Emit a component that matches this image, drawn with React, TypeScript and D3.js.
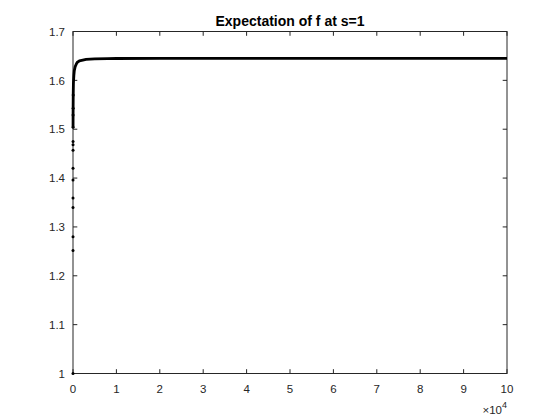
import React from 'react';
import * as d3 from 'd3';

const width = 560;
const height = 420;

// sample index n and the running expectation
const sampleN = [1, 2, 3, 4, 5, 6, 7, 8, 9, 10, 15, 20, 30, 50, 100, 200, 300, 500, 800, 1000, 1500, 2000, 3000, 5000, 8000, 10000, 20000, 40000, 60000, 80000, 100000];
const expectation = [1.0, 1.252, 1.28, 1.34, 1.359, 1.396, 1.42, 1.457, 1.468, 1.475, 1.504, 1.529, 1.543, 1.57, 1.595, 1.61, 1.62, 1.628, 1.634, 1.637, 1.64, 1.641, 1.643, 1.644, 1.6445, 1.6447, 1.6448, 1.6449, 1.6449, 1.6449, 1.6449];

const xTicks = [0, 1, 2, 3, 4, 5, 6, 7, 8, 9, 10];
const yTicks = [1, 1.1, 1.2, 1.3, 1.4, 1.5, 1.6, 1.7];

const left = 73;
const right = 507;
const top = 31.5;
const bottom = 373.5;
const axisColor = '#262626';
const font = '"Liberation Sans", Arial, sans-serif';

const App = () => {
	const x = d3.scaleLinear().domain([0, 100000]).range([left, right]);
	const y = d3.scaleLinear().domain([1, 1.7]).range([bottom, top]);
	const pts = sampleN.map((n, i) => [n, expectation[i]] as [number, number]);
	const line = d3
		.line<[number, number]>()
		.x((d) => x(d[0]))
		.y((d) => y(d[1]));
	const tl = 4.3;
	// early samples are sparse: only dots, the line gets dense from ~1.5 on
	const dense = pts.filter((d) => d[1] >= 1.5);

	return (
		<svg width={width} height={height} style={{ display: 'block', position: 'absolute', left: 0, top: 0, background: '#fff' }}>
			<rect x={0} y={0} width={width} height={height} fill="#fff" />
			<rect x={left} y={top} width={right - left} height={bottom - top} fill="#fff" stroke={axisColor} strokeWidth={1} />
			{xTicks.map((t) => (
				<g key={'x' + t}>
					<line x1={x(t * 10000)} x2={x(t * 10000)} y1={bottom} y2={bottom - tl} stroke={axisColor} />
					<line x1={x(t * 10000)} x2={x(t * 10000)} y1={top} y2={top + tl} stroke={axisColor} />
					<text x={x(t * 10000)} y={bottom + 19.5} textAnchor="middle" fontFamily={font} fontSize={11.5} fill={axisColor}>
						{t}
					</text>
				</g>
			))}
			{yTicks.map((t) => (
				<g key={'y' + t}>
					<line x1={left} x2={left + tl} y1={y(t)} y2={y(t)} stroke={axisColor} />
					<line x1={right} x2={right - tl} y1={y(t)} y2={y(t)} stroke={axisColor} />
					<text x={left - 8} y={y(t) + 4.2} textAnchor="end" fontFamily={font} fontSize={11.5} fill={axisColor}>
						{d3.format('.1~f')(t)}
					</text>
				</g>
			))}
			<text x={right} y={414} textAnchor="end" fontFamily={font} fontSize={11.5} fill={axisColor}>
				{'\u00d710'}
				<tspan dy={-6} fontSize={9}>4</tspan>
			</text>
			<path d={line(dense) || ''} fill="none" stroke="#000" strokeWidth={2.8} />
			{pts.slice(0, 14).map((d, i) => (
				<circle key={i} cx={x(d[0])} cy={y(d[1])} r={1.5} fill="#000" />
			))}
			<text x={(left + right) / 2} y={25.5} textAnchor="middle" fontFamily={font} fontSize={14} fontWeight="bold" fill="#000">
				Expectation of f at s=1
			</text>
		</svg>
	);
};

export default App;
